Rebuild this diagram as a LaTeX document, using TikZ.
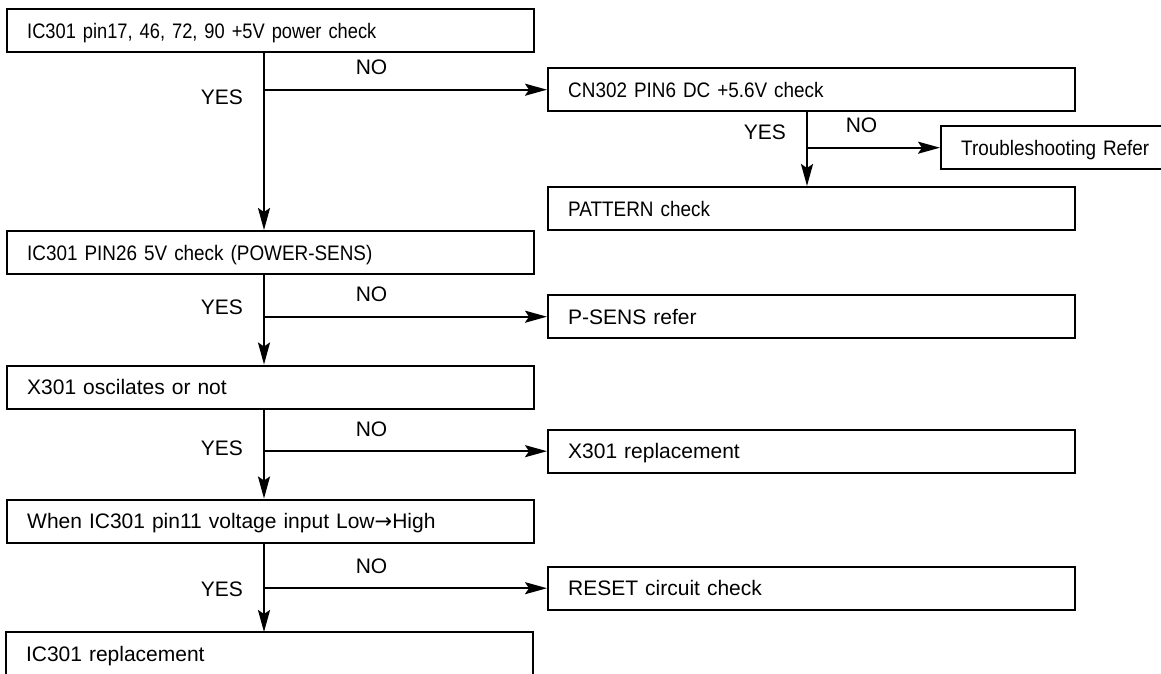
\documentclass[tikz,border=0pt]{standalone}
\usepackage{fontspec}
\setmainfont{Liberation Sans}
\newfontfamily\narrowfont[FakeStretch=0.9]{Liberation Sans}
\newfontfamily\tightfont[FakeStretch=0.87]{Liberation Sans}
\newfontfamily\arrowfont{DejaVu Sans}
\usetikzlibrary{arrows.meta}

\begin{document}
\begin{tikzpicture}[x=1pt, y=-1pt,
box/.style={draw, line width=2.4pt, anchor=north west, minimum width=527pt, minimum height=43pt,
  text width=487pt, inner xsep=20pt, inner ysep=0pt, align=left, text height=15pt, text depth=0pt,
  font=\fontsize{21}{25}\selectfont},
nbox/.style={box, font=\fontsize{21}{25}\narrowfont},
flow/.style={line width=2pt, -{Stealth[length=22pt, width=12pt, inset=4pt]}},
yes/.style={anchor=east, inner sep=0pt, font=\fontsize{21}{25}\selectfont},
no/.style={above=13.5pt, inner sep=0pt, font=\fontsize{21}{25}\selectfont}]
\def\colA{264}
\def\colB{807}
\clip (0,0) rectangle (1161,674);
\coordinate (colA) at (\colA,0);
\coordinate (colB) at (\colB,0);

% main column
\node[nbox, font=\fontsize{21}{25}\tightfont] (Pwr) at (6,8) {IC301 pin17, 46, 72, 90 +5V power check};
\node[nbox] (Sens) at (6,230) {IC301 PIN26 5V check (POWER-SENS)};
\node[box] (Osc) at (6,364.5) {X301 oscilates or not};
\node[box] (Low) at (6,498.5) {When IC301 pin11 voltage input Low{\arrowfont →}High};
\node[box, draw=none, outer sep=0pt] (Rep) at (6,632) {IC301 replacement};
\draw[line width=2.4pt] (Rep.south west) -- (Rep.north west) -- (Rep.north east) -- (Rep.south east);

% NO side
\node[nbox] (Cn) at (547,67) {CN302 PIN6 DC +5.6V check};
\node[nbox] (Pat) at (547,186) {PATTERN check};
\node[nbox, minimum width=260pt, text width=220pt] (Ts) at (940,125) {Troubleshooting Refer};
\node[box] (Ps) at (547,294) {P-SENS refer};
\node[box] (Xr) at (547,428.5) {X301 replacement};
\node[box] (Rc) at (547,565.5) {RESET circuit check};

\node[yes] (yes1) at (243,97.5) {YES};
\node[yes] (yes2) at (786,132) {YES};
\node[yes] (yes3) at (243,307.5) {YES};
\node[yes] (yes4) at (243,448) {YES};
\node[yes] (yes5) at (243,589) {YES};

\draw[flow] (Pwr.south -| colA) -- (Sens.north -| colA);
\draw[flow] (colA |- Cn.west) -- node[no, pos=.38] (no1) {NO} (Cn.west);
\draw[flow] (Cn.south -| colB) -- (Pat.north -| colB);
\draw[flow] (colB |- Ts.west) -- node[no, pos=.41] (no2) {NO} (Ts.west);
\draw[flow] (Sens.south -| colA) -- (Osc.north -| colA);
\draw[flow] (colA |- Ps.west) -- node[no, pos=.38] (no3) {NO} (Ps.west);
\draw[flow] (Osc.south -| colA) -- (Low.north -| colA);
\draw[flow] (colA |- Xr.west) -- node[no, pos=.38] (no4) {NO} (Xr.west);
\draw[flow] (Low.south -| colA) -- (Rep.north -| colA);
\draw[flow] (colA |- Rc.west) -- node[no, pos=.38] (no5) {NO} (Rc.west);
\end{tikzpicture}
\end{document}
